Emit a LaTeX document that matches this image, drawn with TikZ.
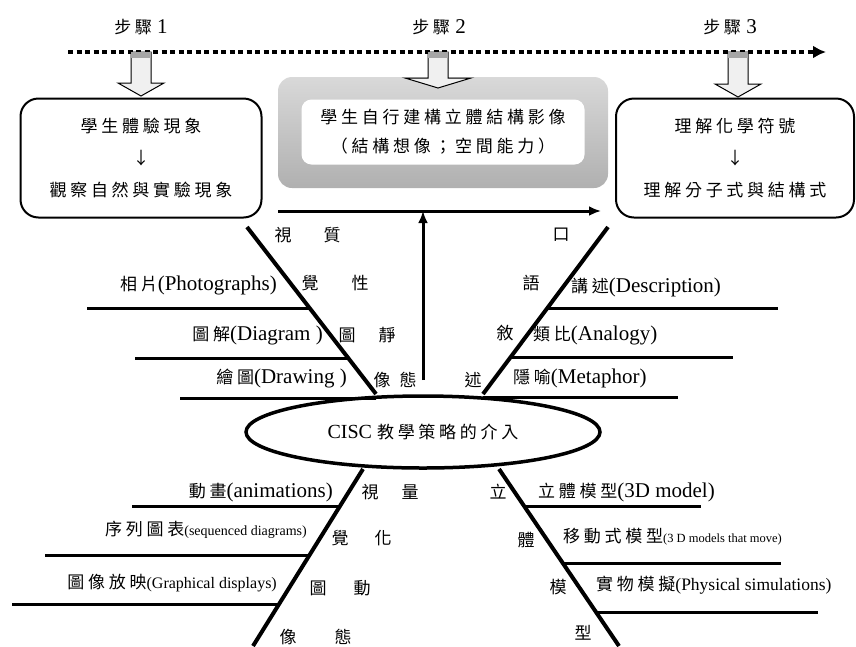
\documentclass[tikz,border=0pt]{standalone}
\usepackage{fontspec}
\setmainfont{Liberation Serif}
\newfontfamily\cjk{Noto Sans CJK TC}[LetterSpace=22]
\usepackage{tikz}
\usetikzlibrary{shapes.geometric}
\usetikzlibrary{arrows.meta}

\newcommand{\zh}[1]{{\cjk\fontsize{17}{20}\selectfont #1}}

\tikzset{
  timeline/.style={line width=4.5pt, dash pattern=on 5pt off 3.5pt,
    -{Latex[length=13pt,width=13pt]}},
  blockarrow/.style={draw, line width=1pt, fill=gray!12},
  stepbox/.style={shape=rectangle, draw, line width=2pt, rounded corners=18pt,
    align=center, inner sep=0pt, font=\cjk\fontsize{17}{32}\selectfont},
  innerface/.style={shape=rectangle, fill=white, rounded corners=10pt,
    align=center, inner sep=0pt, font=\cjk\fontsize{17}{29}\selectfont},
  flow/.style={line width=3pt, -{Latex[length=12pt,width=10pt]}},
  bone/.style={line width=4pt},
  rib/.style={line width=3pt},
  colchar/.style={inner sep=0pt, font=\cjk\fontsize{17}{20}\selectfont},
  lab/.style={inner sep=0pt, font=\fontsize{21}{24}\selectfont},
}

\begin{document}
\begin{tikzpicture}[x=1pt,y=-1pt]
      \useasboundingbox (0,0) rectangle (856,646);

      % steps on the dotted time line
      \path node (step1) at (141,27) [lab] {\zh{步驟} 1};
      \path node (step2) at (439,27) [lab] {\zh{步驟} 2};
      \path node (step3) at (730,27) [lab] {\zh{步驟} 3};

      \path coordinate (t0) at (68,52);
      \path coordinate (t1) at (826,52);
      \draw[timeline] (t0) -- (t1);

      \draw[blockarrow] (131,52) -- (131,83) -- (118,83) -- (141,96)
            -- (164,83) -- (151,83) -- (151,52) -- cycle;
      \fill[gray!70] (131,52) rectangle (151,58);
      \draw[blockarrow] (728,52) -- (728,84) -- (715,84) -- (738,97)
            -- (761,84) -- (748,84) -- (748,52) -- cycle;
      \fill[gray!70] (728,52) rectangle (748,58);

      % step 1 and step 3
      \path node (observe) at (141,158)
            [stepbox, minimum width=241pt, minimum height=119pt]
            {學生體驗現象\\↓\\觀察自然與實驗現象};

      \path node (symbol) at (735,158)
            [stepbox, minimum width=238pt, minimum height=119pt]
            {理解化學符號\\↓\\理解分子式與結構式};

      % step 2 (bevelled box)
      \shade[top color=gray!30, bottom color=gray!62, rounded corners=14pt]
            (278,77) rectangle (608,188);
      \path node (image) at (443,132)
            [innerface, minimum width=283pt, minimum height=65pt]
            {學生自行建構立體結構影像\\（結構想像；空間能力）};

      \draw[blockarrow] (428,52) -- (428,78) -- (405,78) -- (438,88)
            -- (471,78) -- (448,78) -- (448,52) -- cycle;
      \fill[gray!70] (428,52) rectangle (448,58);

      \path coordinate (h0) at (278,211);
      \path coordinate (h1) at (601,211);
      \draw[flow] (h0) -- (h1);

      \path coordinate (v0) at (423,380);
      \draw[flow] (v0) -- (v0 |- h0);

      % centre
      \path node (cisc) at (423,432)
            [shape=ellipse, draw, line width=3.5pt, minimum width=354pt,
             minimum height=72pt, inner sep=0pt, font=\fontsize{20}{24}\selectfont]
            {CISC \zh{教學策略的介入}};

      % upper left: visual static images
      \path coordinate (ul0) at (247,227);
      \path coordinate (ul1) at (376,394);
      \draw[bone] (ul0) -- (ul1);

      \path coordinate (ula) at (87,308);
      \path coordinate (ulb) at (310,308);
      \draw[rib] (ula) -- (ulb);
      \path coordinate (ulc) at (135,358);
      \path coordinate (uld) at (348,358);
      \draw[rib] (ulc) -- (uld);
      \path coordinate (ule) at (180,398);
      \draw[rib] (ule) -- (ul1 |- ule);

      \path node (photo) at (277,285) [lab, anchor=east] {\zh{相片}(Photographs)};
      \path node (diagram) at (323,335) [lab, anchor=east] {\zh{圖解}(Diagram )};
      \path node (drawing) at (347,378) [lab, anchor=east] {\zh{繪圖}(Drawing )};

      \path node (ulv1) at (283,235) [colchar] {視};
      \path node (ulv2) at (310,283) [colchar] {覺};
      \path node (ulv3) at (347,335) [colchar] {圖};
      \path node (ulv4) at (382,380) [colchar] {像};
      \path node (uls1) at (332,235) [colchar] {質};
      \path node (uls2) at (360,283) [colchar] {性};
      \path node (uls3) at (387,335) [colchar] {靜};
      \path node (uls4) at (408,380) [colchar] {態};

      % upper right: oral narration
      \path coordinate (ur0) at (608,227);
      \path coordinate (ur1) at (483,394);
      \draw[bone] (ur0) -- (ur1);

      \path coordinate (ura) at (548,308);
      \path coordinate (urb) at (778,308);
      \draw[rib] (ura) -- (urb);
      \path coordinate (urc) at (511,357);
      \path coordinate (urd) at (733,357);
      \draw[rib] (urc) -- (urd);
      \path coordinate (ure) at (678,397);
      \draw[rib] (ur1 |- ure) -- (ure);

      \path node (describe) at (571,287) [lab, anchor=west] {\zh{講述}(Description)};
      \path node (analogy) at (533,335) [lab, anchor=west] {\zh{類比}(Analogy)};
      \path node (metaphor) at (513,378) [lab, anchor=west] {\zh{隱喻}(Metaphor)};

      \path node (urn1) at (561,235) [colchar] {口};
      \path node (urn2) at (531,283) [colchar] {語};
      \path node (urn3) at (505,333) [colchar] {敘};
      \path node (urn4) at (473,380) [colchar] {述};

      % lower left: visual dynamic images
      \path coordinate (ll0) at (363,469);
      \path coordinate (ll1) at (253,646);
      \draw[bone] (ll0) -- (ll1);

      \path coordinate (lla) at (132,506);
      \path coordinate (llb) at (340,506);
      \draw[rib] (lla) -- (llb);
      \path coordinate (llc) at (45,555);
      \path coordinate (lld) at (310,555);
      \draw[rib] (llc) -- (lld);
      \path coordinate (lle) at (12,604);
      \path coordinate (llf) at (279,604);
      \draw[rib] (lle) -- (llf);

      \path node (anim) at (333,492) [lab, anchor=east] {\zh{動畫}(animations)};
      \path node (sequence) at (307,530) [lab, anchor=east]
            {\zh{序列圖表}{\fontsize{14}{16}\selectfont(sequenced diagrams)}};
      \path node (display) at (277,583) [lab, anchor=east]
            {\zh{圖像放映}{\fontsize{16}{18}\selectfont(Graphical displays)}};

      \path node (llv1) at (370,492) [colchar] {視};
      \path node (llv2) at (340,538) [colchar] {覺};
      \path node (llv3) at (318,588) [colchar] {圖};
      \path node (llv4) at (288,637) [colchar] {像};
      \path node (llq1) at (410,492) [colchar] {量};
      \path node (llq2) at (383,538) [colchar] {化};
      \path node (llq3) at (362,588) [colchar] {動};
      \path node (llq4) at (343,637) [colchar] {態};

      % lower right: 3D models
      \path coordinate (lr0) at (499,469);
      \path coordinate (lr1) at (619,646);
      \draw[bone] (lr0) -- (lr1);

      \path coordinate (lra) at (524,506);
      \path coordinate (lrb) at (701,506);
      \draw[rib] (lra) -- (lrb);
      \path coordinate (lrc) at (563,563);
      \path coordinate (lrd) at (781,563);
      \draw[rib] (lrc) -- (lrd);
      \path coordinate (lre) at (596,612);
      \path coordinate (lrf) at (818,612);
      \draw[rib] (lre) -- (lrf);

      \path node (model) at (538,492) [lab, anchor=west] {\zh{立體模型}(3D model)};
      \path node (moving) at (563,537) [lab, anchor=west]
            {\zh{移動式模型}{\fontsize{12.5}{14}\selectfont(3 D models that move)}};
      \path node (physical) at (596,585) [lab, anchor=west]
            {\zh{實物模擬}{\fontsize{17.5}{20}\selectfont(Physical simulations)}};

      \path node (lrm1) at (498,492) [colchar] {立};
      \path node (lrm2) at (526,540) [colchar] {體};
      \path node (lrm3) at (558,587) [colchar] {模};
      \path node (lrm4) at (583,633) [colchar] {型};
\end{tikzpicture}
\end{document}
